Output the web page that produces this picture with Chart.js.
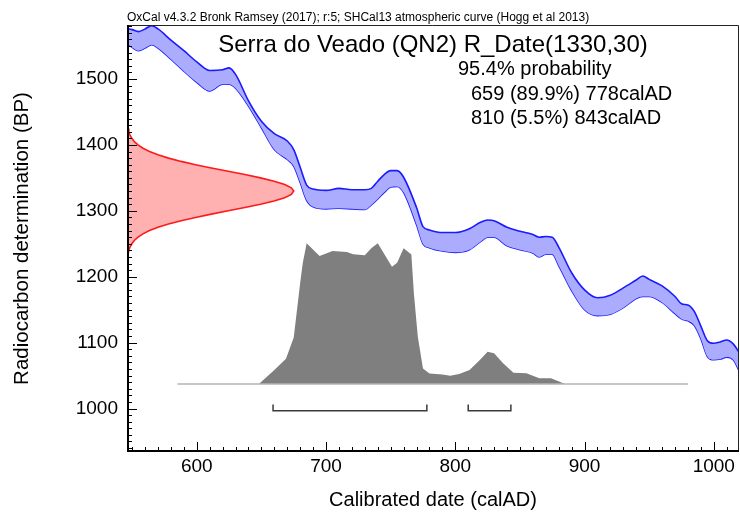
<!DOCTYPE html>
<html>
<head>
<meta charset="utf-8">
<script src="https://cdn.jsdelivr.net/npm/chart.js@4/dist/chart.umd.min.js"></script>
<style>
  html, body { margin: 0; padding: 0; background: #fff; }
  canvas { display: block; }
</style>
</head>
<body>
<canvas id="calib" width="740" height="515"></canvas>
<script>
// SHCal13 calibration band (upper / lower edge, BP) by calendar year
const curveYears = [545,550,555,560,565,570,580,590,600,610,620,625,630,640,650,660,670,675,680,685,690,700,710,720,730,735,740,745,750,755,760,770,775,780,790,800,810,820,825,830,840,850,860,865,870,875,880,890,900,910,920,930,940,945,950,960,970,975,980,985,990,995,1000,1005,1010,1015,1020];
const curveUpper = [1577,1575,1572,1576,1581,1576,1559,1543,1526,1513,1514,1517,1507,1467,1436,1417,1406,1393,1366,1339,1333,1331,1334,1332,1332,1334,1345,1355,1361,1361,1351,1305,1276,1271,1267,1267,1272,1283,1286,1285,1275,1269,1264,1260,1261,1260,1245,1206,1180,1168,1172,1183,1195,1201,1196,1186,1170,1159,1157,1147,1125,1103,1099,1101,1104,1098,1084];
const curveLower = [1556,1548,1543,1547,1552,1547,1530,1512,1495,1482,1492,1492,1486,1459,1426,1393,1378,1368,1343,1316,1306,1303,1304,1303,1302,1309,1318,1328,1336,1337,1328,1279,1250,1244,1239,1237,1240,1254,1260,1260,1247,1241,1236,1230,1234,1234,1217,1179,1150,1141,1143,1153,1167,1170,1170,1161,1144,1136,1133,1126,1106,1079,1074,1075,1078,1074,1056];

// Radiocarbon measurement R_Date(1330,30): relative likelihood by BP
const dateBP = [1450,1445,1440,1435,1430,1425,1420,1415,1410,1405,1400,1395,1390,1385,1380,1375,1370,1365,1360,1355,1350,1345,1340,1335,1330,1325,1320,1315,1310,1305,1300,1295,1290,1285,1280,1275,1270,1265,1260,1255,1250,1245,1240,1235,1230,1225,1220,1215,1210];
const dateDensity = [0,0.001,0.001,0.002,0.004,0.007,0.011,0.018,0.029,0.044,0.066,0.096,0.135,0.186,0.249,0.325,0.411,0.506,0.607,0.707,0.801,0.882,0.946,0.986,1,0.986,0.946,0.882,0.801,0.707,0.607,0.506,0.411,0.325,0.249,0.186,0.135,0.096,0.066,0.044,0.029,0.018,0.011,0.007,0.004,0.002,0.001,0.001,0];

// Calibrated probability by calendar year (relative)
const postYears = [585,648,660,669,675,680,682,685,695,705,716,721,730,735,740,751,755,760,766,768,771,775,780,790,796,803,811,819,825,830,837,845,855,865,874,885,980];
const postDensity = [0,0,0.10,0.18,0.33,0.72,0.86,1.0,0.91,0.945,0.938,0.922,0.915,0.964,1.0,0.834,0.862,0.964,0.92,0.64,0.336,0.11,0.075,0.068,0.059,0.071,0.10,0.171,0.23,0.218,0.147,0.08,0.076,0.041,0.041,0,0];

// 95.4% highest posterior density ranges
const rangeStart = [659, 810];
const rangeEnd = [778, 843];
const rangePct = [89.9, 5.5];

// Axis labels
const xTickLabels = [600, 700, 800, 900, 1000];
const yTickLabels = [1000, 1100, 1200, 1300, 1400, 1500];

const FONT = "'Liberation Sans', Arial, Helvetica, sans-serif";
Chart.defaults.font.family = FONT;
Chart.defaults.color = '#000';

const zip = (xs, ys) => xs.map((x, i) => ({ x: x, y: ys[i] }));
const fixedTicks = values => scale => { scale.ticks = values.map(v => ({ value: v })); };

const line = (extra) => Object.assign({
  pointRadius: 0, pointHoverRadius: 0, tension: 0, fill: false,
  xAxisID: 'x', yAxisID: 'y'
}, extra);

const datasets = [];

// baseline under the calibrated distribution
datasets.push(line({
  data: [{ x: postYears[0], y: 0 }, { x: postYears[postYears.length - 1], y: 0 }],
  yAxisID: 'yp', borderColor: '#b4b4b4', borderWidth: 1.5
}));

// range brackets
rangeStart.forEach((s, i) => {
  datasets.push(line({
    data: [{ x: s, y: -0.145 }, { x: s, y: -0.19 }, { x: rangeEnd[i], y: -0.19 }, { x: rangeEnd[i], y: -0.145 }],
    yAxisID: 'yp', borderColor: '#3a3a3a', borderWidth: 1.5
  }));
});

// calibrated distribution
datasets.push(line({
  data: zip(postYears, postDensity),
  yAxisID: 'yp', borderWidth: 0, borderColor: 'rgba(0,0,0,0)',
  backgroundColor: '#7f7f7f', fill: 'origin'
}));

// calibration curve band
datasets.push(line({
  data: zip(curveYears, curveUpper),
  borderColor: '#1a1aff', borderWidth: 1.6, cubicInterpolationMode: 'monotone',
  backgroundColor: '#acacff', fill: '+1'
}));
datasets.push(line({
  data: zip(curveYears, curveLower),
  borderColor: '#1a1aff', borderWidth: 1.6, cubicInterpolationMode: 'monotone'
}));

// radiocarbon measurement along the BP axis
datasets.push(line({
  data: zip(dateDensity, dateBP),
  xAxisID: 'xd', borderColor: '#ff1a1a', borderWidth: 1.6,
  backgroundColor: '#ffb0b0', fill: 'shape'
}));

const frame = {
  id: 'frame',
  afterDatasetsDraw(chart) {
    const { ctx, chartArea: a, scales } = chart;
    const xs = scales.x, ys = scales.y;
    ctx.save();
    ctx.strokeStyle = '#000';
    ctx.lineWidth = 1;
    ctx.beginPath();
    for (let v = Math.ceil(xs.min / 10) * 10; v <= xs.max; v += 10) {
      const p = Math.round(xs.getPixelForValue(v)) + 0.5;
      const len = v % 100 === 0 ? 10 : 5;
      ctx.moveTo(p, a.bottom);
      ctx.lineTo(p, a.bottom - len);
    }
    for (let v = Math.ceil(ys.min / 10) * 10; v <= ys.max; v += 10) {
      const p = Math.round(ys.getPixelForValue(v)) + 0.5;
      const len = v % 100 === 0 ? 10 : 5;
      ctx.moveTo(a.left, p);
      ctx.lineTo(a.left + len, p);
    }
    ctx.stroke();
    // outer frame
    ctx.strokeStyle = '#222';
    ctx.beginPath();
    ctx.moveTo(a.left, a.top + 0.5);
    ctx.lineTo(a.right - 0.5, a.top + 0.5);
    ctx.lineTo(a.right - 0.5, a.bottom);
    ctx.stroke();
    ctx.strokeStyle = '#000';
    ctx.lineWidth = 2;
    ctx.beginPath();
    ctx.moveTo(a.left + 1, a.top);
    ctx.lineTo(a.left + 1, a.bottom - 1);
    ctx.lineTo(a.right, a.bottom - 1);
    ctx.stroke();
    ctx.restore();
  },
  afterDraw(chart) {
    const { ctx, chartArea: a } = chart;
    ctx.save();
    ctx.fillStyle = '#000';
    ctx.textBaseline = 'middle';
    ctx.textAlign = 'left';
    ctx.font = '12px ' + FONT;
    ctx.fillText('OxCal v4.3.2 Bronk Ramsey (2017); r:5; SHCal13 atmospheric curve (Hogg et al 2013)', a.left, 18);
    ctx.font = '24px ' + FONT;
    ctx.textAlign = 'center';
    ctx.fillText('Serra do Veado (QN2) R_Date(1330,30)', (a.left + a.right) / 2, 45);
    ctx.font = '20px ' + FONT;
    ctx.textAlign = 'left';
    ctx.fillText('95.4% probability', 458, 69);
    rangeStart.forEach((s, i) => {
      ctx.fillText(s + ' (' + rangePct[i] + '%) ' + rangeEnd[i] + 'calAD', 471, 94 + i * 24);
    });
    ctx.restore();
  }
};

new Chart(document.getElementById('calib'), {
  type: 'line',
  data: { datasets },
  options: {
    responsive: false,
    animation: false,
    devicePixelRatio: 1,
    layout: { padding: { top: 25, right: 1, left: 0, bottom: 0 } },
    plugins: { legend: { display: false }, tooltip: { enabled: false } },
    events: [],
    scales: {
      x: {
        type: 'linear', position: 'bottom', min: 546, max: 1019.5,
        afterBuildTicks: fixedTicks(xTickLabels),
        afterFit: s => { s.height = 63; },
        grid: { display: false, drawTicks: false },
        border: { display: false },
        ticks: { font: { size: 19 }, padding: 3, color: '#000', maxRotation: 0, callback: v => String(v) },
        title: { display: true, text: 'Calibrated date (calAD)', font: { size: 20 }, color: '#000', padding: { top: 0, bottom: 3 } }
      },
      y: {
        type: 'linear', position: 'left', min: 934, max: 1582,
        afterBuildTicks: fixedTicks(yTickLabels),
        afterFit: s => { s.width = 127; },
        grid: { display: false, drawTicks: false },
        border: { display: false },
        ticks: { font: { size: 19 }, padding: 9, color: '#000', callback: v => String(v) },
        title: { display: true, text: 'Radiocarbon determination (BP)', font: { size: 20.5 }, color: '#000', padding: { top: 10, bottom: 0 } }
      },
      yp: { type: 'linear', position: 'right', display: false, min: -0.4833, max: 2.5515 },
      xd: { type: 'linear', position: 'top', display: false, min: 0, max: 3.671 }
    }
  },
  plugins: [frame]
});
</script>
</body>
</html>
